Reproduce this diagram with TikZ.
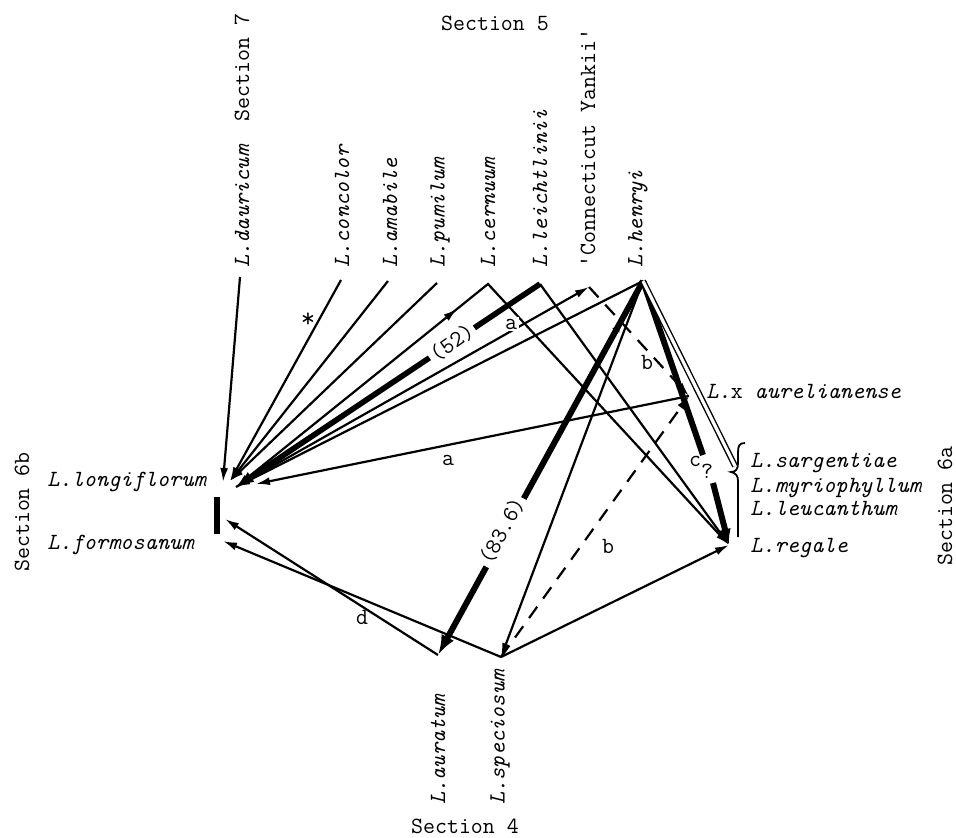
\documentclass[tikz,border=0pt]{standalone}
\usepackage{fontspec}
\usetikzlibrary{arrows.meta,decorations.markings}

\begin{document}
\begin{tikzpicture}[x=0.5pt, y=-0.5pt,
    font=\ttfamily\fontsize{11.6}{13}\selectfont,
    >={Latex[length=7pt,width=4pt]},
    especie/.style={inner sep=0pt, font=\ttfamily\fontsize{11.6}{13}\selectfont\itshape},
    rotulo/.style={inner sep=0pt},
    linea/.style={line width=1.1pt},
    gruesa/.style={line width=2.8pt},
    rayas/.style={dash pattern=on 7pt off 5pt}]

  \useasboundingbox (0,0) rectangle (956,838);

  % Definir las posiciones de las especies
  \coordinate (dau) at (240,277);   % L. dauricum
  \coordinate (con) at (341,280);   % L. concolor
  \coordinate (ama) at (388,281);   % L. amabile
  \coordinate (pum) at (437,283);   % L. pumilum
  \coordinate (cer) at (488,284);   % L. cernuum
  \coordinate (lei) at (540,284);   % L. leichtlinii
  \coordinate (cy)  at (589,287);   % 'Connecticut Yankii'
  \coordinate (hen) at (643,281);   % L. henryi
  \coordinate (aur) at (689,396);   % L. x aurelianense
  \coordinate (sar) at (735,466);   % grupo sargentiae
  \coordinate (reg) at (729,545);   % L. regale
  \coordinate (lon)  at (236,487);  % L. longiflorum
  \coordinate (lonA) at (230,481);
  \coordinate (lonD) at (223,482);
  \coordinate (lonB) at (256,484);
  \coordinate (fb1) at (217,497);   % barra de L. formosanum
  \coordinate (fb2) at (217,534);
  \coordinate (fup) at (225,519);
  \coordinate (flo) at (223,541);
  \coordinate (aura) at (438,655);  % L. auratum
  \coordinate (spe) at (501,657);   % L. speciosum
  \coordinate (c1) at (703,455);    % hueco de "c?"
  \coordinate (c2) at (713,483);

  % Nombres de las especies (arriba)
  \node[especie, rotate=90, anchor=west] (tdau) at (242,268) {L.dauricum~~\upshape Section 7};
  \node[especie, rotate=90, anchor=west] (tcon) at (342,268) {L.concolor};
  \node[especie, rotate=90, anchor=west] (tama) at (390,268) {L.amabile};
  \node[especie, rotate=90, anchor=west] (tpum) at (440,268) {L.pumilum};
  \node[especie, rotate=90, anchor=west] (tcer) at (488,268) {L.cernuum};
  \node[especie, rotate=90, anchor=west] (tlei) at (540,268) {L.leichtlinii};
  \node[rotulo, rotate=90, anchor=west] (tcy) at (588,268) {'Connecticut Yankii'};
  \node[especie, rotate=90, anchor=west] (then) at (638,268) {L.henryi};
  \node[rotulo] (s5) at (495,23) {Section 5};

  % Nombres de las especies (derecha, izquierda y abajo)
  \node[especie, anchor=base west] (taur) at (706,399) {L.\upshape x \itshape aurelianense};
  \node[especie, anchor=base west] (tsar) at (750,467) {L.sargentiae};
  \node[especie, anchor=base west] (tmyr) at (750,492) {L.myriophyllum};
  \node[especie, anchor=base west] (tleu) at (750,515) {L.leucanthum};
  \node[especie, anchor=base west] (treg) at (750,552) {L.regale};
  \node[rotulo, rotate=90] (s6a) at (945,506) {Section 6a};
  \node[especie, anchor=base west] (tlon) at (47,487) {L.longiflorum};
  \node[especie, anchor=base west] (tfor) at (47,549) {L.formosanum};
  \node[rotulo, rotate=90] (s6b) at (22,512) {Section 6b};
  \node[especie, rotate=90, anchor=west] (taura) at (438,805) {L.auratum};
  \node[especie, rotate=90, anchor=west] (tspe) at (500,805) {L.speciosum};
  \node[rotulo, anchor=base] (s4) at (465,833) {Section 4};

  % Dibujar los cruces hacia L. longiflorum
  \draw[linea, ->] (dau) -- (lonD);
  \draw[linea, ->] (con) -- (lonA);
  \node[rotulo, font=\ttfamily\fontsize{14}{14}\selectfont] (est) at (308,320) {*};
  \draw[linea, ->] (ama) -- (lonA);
  \draw[linea, ->] (pum) -- (lonA);
  \draw[linea, <->, postaction={decorate},
    decoration={markings, mark=at position 142pt with {\arrow{>}}}] (lon) -- (cer) -- (reg);
  \draw[gruesa, -{Latex[length=9pt,width=6pt]}] (lei) -- (lon);
  \node[rotulo, fill=white, rotate=35, inner sep=1.5pt] (t52) at (452,343) {(52)};
  \draw[linea, ->] (lei) -- (reg);
  \draw[linea, ->] (lon) -- (cy);
  \node[rotulo, fill=white, inner sep=0.8pt] (ta1) at (511,324) {a};
  \draw[linea, ->] (hen) -- (lon);
  \draw[linea, ->] (aur) -- (lonB);
  \node[rotulo] (ta2) at (448,460) {a};

  % Cruces de L. henryi
  \draw[gruesa, line width=3pt, -{Latex[length=10pt,width=7pt]}, postaction={decorate},
    decoration={markings, mark=at position 0.1 with {\arrowreversed{>}}}] (hen) -- (aura);
  \node[rotulo, fill=white, rotate=61.5, inner sep=1.5pt] (t836) at (502,531) {(83.6)};
  \draw[linea, ->] (hen) -- (spe);
  \draw[gruesa, line width=3pt] (hen) -- (c1);
  \node[rotulo] (tc) at (701,467) {c\raisebox{-6pt}{?}};
  \draw[gruesa, line width=3pt, -{Latex[length=8pt,width=6pt]}] (c2) -- (reg);
  \draw[double, double distance=1.6pt, line width=0.7pt] (hen) -- (sar);

  % Lineas discontinuas hacia L. x aurelianense
  \draw[linea, rayas, ->] (cy) -- (aur);
  \node[rotulo] (tb1) at (647,362) {b};
  \draw[linea, rayas, ->] (spe) -- (aur);
  \node[rotulo] (tb2) at (608,546) {b};

  % Cruces de la seccion 4
  \draw[linea, ->] (spe) -- (reg);
  \draw[linea, ->] (aura) -- (fup);
  \draw[linea, ->] (spe) -- (flo);
  \node[rotulo] (td) at (362,617) {d};
  \draw[line width=2.6pt] (fb1) -- (fb2);

  % Llave del grupo sargentiae
  \draw[line width=0.9pt] (745,443) .. controls (739,443) and (738,446) .. (738,453)
    -- (738,463) .. controls (738,469) and (736,472) .. (731,472)
    .. controls (736,473) and (738,476) .. (738,481) -- (738,537);

\end{tikzpicture}
\end{document}
